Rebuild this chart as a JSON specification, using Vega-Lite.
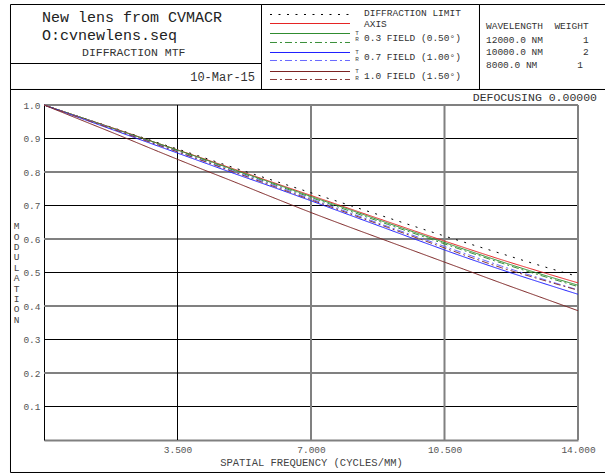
{
  "$schema": "https://vega.github.io/schema/vega-lite/v6.json",
  "width": 534,
  "height": 335,
  "autosize": {"type": "none"},
  "padding": {"left": 44, "top": 105, "right": 27, "bottom": 34},
  "background": "white",
  "config": {"font": "Liberation Mono", "view": {"stroke": null}},
  "datasets": {
    "ygrid": [{"level": 0.1}, {"level": 0.2}, {"level": 0.3}, {"level": 0.4}, {"level": 0.5}, {"level": 0.6}, {"level": 0.7}, {"level": 0.8}, {"level": 0.9}, {"level": 1.0}],
    "xgrid": [{"freq": 3.5}, {"freq": 7}, {"freq": 10.5}, {"freq": 14}],
    "mtf": [
      {"series": "DL", "freq": 0, "mtf": 1.000}, {"series": "DL", "freq": 1, "mtf": 0.962}, {"series": "DL", "freq": 2, "mtf": 0.925}, {"series": "DL", "freq": 3, "mtf": 0.887}, {"series": "DL", "freq": 4, "mtf": 0.850}, {"series": "DL", "freq": 5, "mtf": 0.812}, {"series": "DL", "freq": 6, "mtf": 0.775}, {"series": "DL", "freq": 7, "mtf": 0.738}, {"series": "DL", "freq": 8, "mtf": 0.701}, {"series": "DL", "freq": 9, "mtf": 0.664}, {"series": "DL", "freq": 10, "mtf": 0.627}, {"series": "DL", "freq": 11, "mtf": 0.591}, {"series": "DL", "freq": 12, "mtf": 0.556}, {"series": "DL", "freq": 13, "mtf": 0.521}, {"series": "DL", "freq": 14, "mtf": 0.488},
      {"series": "AXIS", "freq": 0, "mtf": 1.000}, {"series": "AXIS", "freq": 1, "mtf": 0.962}, {"series": "AXIS", "freq": 2, "mtf": 0.924}, {"series": "AXIS", "freq": 3, "mtf": 0.885}, {"series": "AXIS", "freq": 4, "mtf": 0.847}, {"series": "AXIS", "freq": 5, "mtf": 0.808}, {"series": "AXIS", "freq": 6, "mtf": 0.769}, {"series": "AXIS", "freq": 7, "mtf": 0.730}, {"series": "AXIS", "freq": 8, "mtf": 0.691}, {"series": "AXIS", "freq": 9, "mtf": 0.652}, {"series": "AXIS", "freq": 10, "mtf": 0.613}, {"series": "AXIS", "freq": 11, "mtf": 0.575}, {"series": "AXIS", "freq": 12, "mtf": 0.538}, {"series": "AXIS", "freq": 13, "mtf": 0.503}, {"series": "AXIS", "freq": 14, "mtf": 0.469},
      {"series": "0.3 T", "freq": 0, "mtf": 1.000}, {"series": "0.3 T", "freq": 1, "mtf": 0.962}, {"series": "0.3 T", "freq": 2, "mtf": 0.923}, {"series": "0.3 T", "freq": 3, "mtf": 0.885}, {"series": "0.3 T", "freq": 4, "mtf": 0.846}, {"series": "0.3 T", "freq": 5, "mtf": 0.806}, {"series": "0.3 T", "freq": 6, "mtf": 0.767}, {"series": "0.3 T", "freq": 7, "mtf": 0.727}, {"series": "0.3 T", "freq": 8, "mtf": 0.688}, {"series": "0.3 T", "freq": 9, "mtf": 0.648}, {"series": "0.3 T", "freq": 10, "mtf": 0.609}, {"series": "0.3 T", "freq": 11, "mtf": 0.570}, {"series": "0.3 T", "freq": 12, "mtf": 0.532}, {"series": "0.3 T", "freq": 13, "mtf": 0.496}, {"series": "0.3 T", "freq": 14, "mtf": 0.462},
      {"series": "0.3 R", "freq": 0, "mtf": 1.000}, {"series": "0.3 R", "freq": 1, "mtf": 0.961}, {"series": "0.3 R", "freq": 2, "mtf": 0.922}, {"series": "0.3 R", "freq": 3, "mtf": 0.883}, {"series": "0.3 R", "freq": 4, "mtf": 0.844}, {"series": "0.3 R", "freq": 5, "mtf": 0.804}, {"series": "0.3 R", "freq": 6, "mtf": 0.764}, {"series": "0.3 R", "freq": 7, "mtf": 0.724}, {"series": "0.3 R", "freq": 8, "mtf": 0.684}, {"series": "0.3 R", "freq": 9, "mtf": 0.644}, {"series": "0.3 R", "freq": 10, "mtf": 0.605}, {"series": "0.3 R", "freq": 11, "mtf": 0.566}, {"series": "0.3 R", "freq": 12, "mtf": 0.528}, {"series": "0.3 R", "freq": 13, "mtf": 0.492}, {"series": "0.3 R", "freq": 14, "mtf": 0.458},
      {"series": "0.7 T", "freq": 0, "mtf": 1.000}, {"series": "0.7 T", "freq": 1, "mtf": 0.959}, {"series": "0.7 T", "freq": 2, "mtf": 0.918}, {"series": "0.7 T", "freq": 3, "mtf": 0.877}, {"series": "0.7 T", "freq": 4, "mtf": 0.836}, {"series": "0.7 T", "freq": 5, "mtf": 0.795}, {"series": "0.7 T", "freq": 6, "mtf": 0.755}, {"series": "0.7 T", "freq": 7, "mtf": 0.714}, {"series": "0.7 T", "freq": 8, "mtf": 0.672}, {"series": "0.7 T", "freq": 9, "mtf": 0.630}, {"series": "0.7 T", "freq": 10, "mtf": 0.588}, {"series": "0.7 T", "freq": 11, "mtf": 0.547}, {"series": "0.7 T", "freq": 12, "mtf": 0.508}, {"series": "0.7 T", "freq": 13, "mtf": 0.471}, {"series": "0.7 T", "freq": 14, "mtf": 0.435},
      {"series": "0.7 R", "freq": 0, "mtf": 1.000}, {"series": "0.7 R", "freq": 1, "mtf": 0.961}, {"series": "0.7 R", "freq": 2, "mtf": 0.921}, {"series": "0.7 R", "freq": 3, "mtf": 0.881}, {"series": "0.7 R", "freq": 4, "mtf": 0.841}, {"series": "0.7 R", "freq": 5, "mtf": 0.801}, {"series": "0.7 R", "freq": 6, "mtf": 0.761}, {"series": "0.7 R", "freq": 7, "mtf": 0.720}, {"series": "0.7 R", "freq": 8, "mtf": 0.679}, {"series": "0.7 R", "freq": 9, "mtf": 0.638}, {"series": "0.7 R", "freq": 10, "mtf": 0.598}, {"series": "0.7 R", "freq": 11, "mtf": 0.558}, {"series": "0.7 R", "freq": 12, "mtf": 0.519}, {"series": "0.7 R", "freq": 13, "mtf": 0.483}, {"series": "0.7 R", "freq": 14, "mtf": 0.448},
      {"series": "1.0 T", "freq": 0, "mtf": 1.000}, {"series": "1.0 T", "freq": 1, "mtf": 0.954}, {"series": "1.0 T", "freq": 2, "mtf": 0.908}, {"series": "1.0 T", "freq": 3, "mtf": 0.861}, {"series": "1.0 T", "freq": 4, "mtf": 0.815}, {"series": "1.0 T", "freq": 5, "mtf": 0.770}, {"series": "1.0 T", "freq": 6, "mtf": 0.724}, {"series": "1.0 T", "freq": 7, "mtf": 0.679}, {"series": "1.0 T", "freq": 8, "mtf": 0.636}, {"series": "1.0 T", "freq": 9, "mtf": 0.594}, {"series": "1.0 T", "freq": 10, "mtf": 0.552}, {"series": "1.0 T", "freq": 11, "mtf": 0.510}, {"series": "1.0 T", "freq": 12, "mtf": 0.468}, {"series": "1.0 T", "freq": 13, "mtf": 0.427}, {"series": "1.0 T", "freq": 14, "mtf": 0.386},
      {"series": "1.0 R", "freq": 0, "mtf": 1.000}, {"series": "1.0 R", "freq": 1, "mtf": 0.960}, {"series": "1.0 R", "freq": 2, "mtf": 0.920}, {"series": "1.0 R", "freq": 3, "mtf": 0.880}, {"series": "1.0 R", "freq": 4, "mtf": 0.840}, {"series": "1.0 R", "freq": 5, "mtf": 0.799}, {"series": "1.0 R", "freq": 6, "mtf": 0.758}, {"series": "1.0 R", "freq": 7, "mtf": 0.717}, {"series": "1.0 R", "freq": 8, "mtf": 0.676}, {"series": "1.0 R", "freq": 9, "mtf": 0.635}, {"series": "1.0 R", "freq": 10, "mtf": 0.594}, {"series": "1.0 R", "freq": 11, "mtf": 0.553}, {"series": "1.0 R", "freq": 12, "mtf": 0.514}, {"series": "1.0 R", "freq": 13, "mtf": 0.480}, {"series": "1.0 R", "freq": 14, "mtf": 0.447}
    ]
  },
  "layer": [
    {
      "data": {"name": "ygrid"},
      "mark": {"type": "rule"},
      "encoding": {
        "y": {"field": "level", "type": "quantitative"},
        "color": {"condition": {"test": "datum.level == 0.2 || datum.level == 0.4 || datum.level == 0.6 || datum.level == 0.8 || datum.level == 1", "value": "#808080"}, "value": "#000000"},
        "strokeWidth": {"condition": {"test": "datum.level == 0.2 || datum.level == 0.4 || datum.level == 0.6 || datum.level == 0.8 || datum.level == 1", "value": 2}, "value": 1}
      }
    },
    {
      "data": {"name": "xgrid"},
      "mark": {"type": "rule"},
      "encoding": {
        "x": {"field": "freq", "type": "quantitative"},
        "color": {"condition": {"test": "datum.freq > 4", "value": "#808080"}, "value": "#000000"},
        "strokeWidth": {"condition": {"test": "datum.freq > 4", "value": 2}, "value": 1}
      }
    },
    {
      "data": {"name": "mtf"},
      "mark": {"type": "line", "strokeWidth": 1, "interpolate": "monotone"},
      "encoding": {
        "x": {
          "field": "freq", "type": "quantitative",
          "scale": {"domain": [0, 14], "nice": false, "zero": false},
          "axis": {
            "values": [3.5, 7, 10.5, 14], "tickCount": 20, "format": ".3f", "ticks": false, "grid": false,
            "domainColor": "#808080", "domainWidth": 2,
            "labelFont": "Liberation Mono", "labelFontSize": 9.5, "labelColor": "#555555", "labelPadding": 4,
            "labelFlush": false, "labelOverlap": false, "labelBound": false,
            "title": "SPATIAL FREQUENCY (CYCLES/MM)", "titleFont": "Liberation Mono", "titleFontSize": 10.5,
            "titleFontWeight": "normal", "titleColor": "#444444", "titlePadding": 4
          }
        },
        "y": {
          "field": "mtf", "type": "quantitative",
          "scale": {"domain": [0, 1], "nice": false},
          "axis": {
            "values": [0.1, 0.2, 0.3, 0.4, 0.5, 0.6, 0.7, 0.8, 0.9, 1.0], "tickCount": 20, "format": ".1f", "ticks": false, "grid": false,
            "domainColor": "#000000", "domainWidth": 1,
            "labelFont": "Liberation Mono", "labelFontSize": 9.5, "labelColor": "#555555", "labelPadding": 4,
            "labelFlush": false, "labelOverlap": false, "labelBound": false,
            "title": null
          }
        },
        "color": {
          "field": "series", "type": "nominal", "legend": null,
          "scale": {
            "domain": ["DL", "AXIS", "0.3 T", "0.3 R", "0.7 T", "0.7 R", "1.0 T", "1.0 R"],
            "range": ["#000000", "#e52222", "#2e8b2e", "#3a8f3a", "#1c1cff", "#6a6aff", "#7a1f1f", "#8a3a3a"]
          }
        },
        "strokeDash": {
          "field": "series", "type": "nominal", "legend": null,
          "scale": {
            "domain": ["DL", "AXIS", "0.3 T", "0.3 R", "0.7 T", "0.7 R", "1.0 T", "1.0 R"],
            "range": [[2, 6.5], [1, 0], [1, 0], [7, 3, 2, 3], [1, 0], [7, 3, 2, 3], [1, 0], [7, 3, 2, 3]]
          }
        }
      }
    },
    {"data": {"values": [{}]}, "mark": {"type": "text", "text": ["M", "O", "D", "U", "L", "A", "T", "I", "O", "N"], "lineHeight": 10.4, "font": "Liberation Mono", "fontSize": 9.5, "align": "center", "baseline": "alphabetic", "color": "#444444"},
     "encoding": {"x": {"datum": -0.71573}, "y": {"datum": 0.62896}}},
    {"data": {"values": [{}]}, "mark": {"type": "rect", "fill": "white", "fillOpacity": 0, "stroke": "#000000", "strokeWidth": 1},
     "encoding": {"x": {"datum": -0.87828}, "x2": {"datum": 5.70225}, "y": {"datum": 1.30000}, "y2": {"datum": 1.04627}}},
    {"data": {"values": [{}]}, "mark": {"type": "rect", "fill": "white", "fillOpacity": 0, "stroke": "#000000", "strokeWidth": 1},
     "encoding": {"x": {"datum": 5.70225}, "x2": {"datum": 11.41760}, "y": {"datum": 1.30000}, "y2": {"datum": 1.04627}}},
    {"data": {"values": [{}]}, "mark": {"type": "rect", "fill": "white", "fillOpacity": 0, "stroke": "#000000", "strokeWidth": 1},
     "encoding": {"x": {"datum": 11.41760}, "x2": {"datum": 14.75}, "y": {"datum": 1.30000}, "y2": {"datum": 1.04627}}},
    {"data": {"values": [{}]}, "mark": {"type": "rect", "fill": "white", "fillOpacity": 0, "stroke": "#000000", "strokeWidth": 1},
     "encoding": {"x": {"datum": -0.87828}, "x2": {"datum": 14.75}, "y": {"datum": 1.04627}, "y2": {"datum": -0.09701}}},
    {"data": {"values": [{}]}, "mark": {"type": "rule", "color": "#000000", "strokeWidth": 1},
     "encoding": {"x": {"datum": -0.87828}, "x2": {"datum": 5.70225}, "y": {"datum": 1.12388}}},
    {"data": {"values": [{}]}, "mark": {"type": "text", "text": "New lens from CVMACR", "font": "Liberation Mono", "fontSize": 15, "align": "left", "baseline": "alphabetic", "color": "#222222"},
     "encoding": {"x": {"datum": -0.05243}, "y": {"datum": 1.24627}}},
    {"data": {"values": [{}]}, "mark": {"type": "text", "text": "O:cvnewlens.seq", "font": "Liberation Mono", "fontSize": 15, "align": "left", "baseline": "alphabetic", "color": "#222222"},
     "encoding": {"x": {"datum": -0.05243}, "y": {"datum": 1.19552}}},
    {"data": {"values": [{}]}, "mark": {"type": "text", "text": "DIFFRACTION MTF", "font": "Liberation Mono", "fontSize": 11.5, "align": "left", "baseline": "alphabetic", "color": "#333333"},
     "encoding": {"x": {"datum": 0.99625}, "y": {"datum": 1.14627}}},
    {"data": {"values": [{}]}, "mark": {"type": "text", "text": "10-Mar-15", "font": "Liberation Mono", "fontSize": 12, "align": "right", "baseline": "alphabetic", "color": "#333333"},
     "encoding": {"x": {"datum": 5.53184}, "y": {"datum": 1.07015}}},
    {"data": {"values": [{}]}, "mark": {"type": "rule"},
     "encoding": {"x": {"datum": 5.92509}, "x2": {"datum": 8.02247}, "y": {"datum": 1.27015}, "color": {"datum": "DL"}, "strokeDash": {"datum": "DL"}}},
    {"data": {"values": [{}]}, "mark": {"type": "rule"},
     "encoding": {"x": {"datum": 5.92509}, "x2": {"datum": 8.02247}, "y": {"datum": 1.24328}, "color": {"datum": "AXIS"}, "strokeDash": {"datum": "AXIS"}}},
    {"data": {"values": [{}]}, "mark": {"type": "rule"},
     "encoding": {"x": {"datum": 5.92509}, "x2": {"datum": 8.02247}, "y": {"datum": 1.21343}, "color": {"datum": "0.3 T"}, "strokeDash": {"datum": "0.3 T"}}},
    {"data": {"values": [{}]}, "mark": {"type": "rule"},
     "encoding": {"x": {"datum": 5.92509}, "x2": {"datum": 8.02247}, "y": {"datum": 1.18657}, "color": {"datum": "0.3 R"}, "strokeDash": {"datum": "0.3 R"}}},
    {"data": {"values": [{}]}, "mark": {"type": "rule"},
     "encoding": {"x": {"datum": 5.92509}, "x2": {"datum": 8.02247}, "y": {"datum": 1.15672}, "color": {"datum": "0.7 T"}, "strokeDash": {"datum": "0.7 T"}}},
    {"data": {"values": [{}]}, "mark": {"type": "rule"},
     "encoding": {"x": {"datum": 5.92509}, "x2": {"datum": 8.02247}, "y": {"datum": 1.13284}, "color": {"datum": "0.7 R"}, "strokeDash": {"datum": "0.7 R"}}},
    {"data": {"values": [{}]}, "mark": {"type": "rule"},
     "encoding": {"x": {"datum": 5.92509}, "x2": {"datum": 8.02247}, "y": {"datum": 1.10000}, "color": {"datum": "1.0 T"}, "strokeDash": {"datum": "1.0 T"}}},
    {"data": {"values": [{}]}, "mark": {"type": "rule"},
     "encoding": {"x": {"datum": 5.92509}, "x2": {"datum": 8.02247}, "y": {"datum": 1.07612}, "color": {"datum": "1.0 R"}, "strokeDash": {"datum": "1.0 R"}}},
    {"data": {"values": [{}]}, "mark": {"type": "text", "text": ["DIFFRACTION LIMIT", "AXIS"], "lineHeight": 10.6, "font": "Liberation Mono", "fontSize": 9.5, "align": "left", "baseline": "alphabetic", "color": "#333333"},
     "encoding": {"x": {"datum": 8.38951}, "y": {"datum": 1.26567}}},
    {"data": {"values": [{}]}, "mark": {"type": "text", "text": ["0.3 FIELD (0.50°)", "0.7 FIELD (1.00°)", "1.0 FIELD (1.50°)"], "lineHeight": 19.4, "font": "Liberation Mono", "fontSize": 9.5, "align": "left", "baseline": "alphabetic", "color": "#333333"},
     "encoding": {"x": {"datum": 8.38951}, "y": {"datum": 1.19224}}},
    {"data": {"values": [{}]}, "mark": {"type": "text", "text": ["T", "R"], "lineHeight": 6.5, "font": "Liberation Mono", "fontSize": 6, "align": "center", "baseline": "alphabetic", "color": "#444444"},
     "encoding": {"x": {"datum": 8.20599}, "y": {"datum": 1.20985}}},
    {"data": {"values": [{}]}, "mark": {"type": "text", "text": ["T", "R"], "lineHeight": 6.5, "font": "Liberation Mono", "fontSize": 6, "align": "center", "baseline": "alphabetic", "color": "#444444"},
     "encoding": {"x": {"datum": 8.20599}, "y": {"datum": 1.15194}}},
    {"data": {"values": [{}]}, "mark": {"type": "text", "text": ["T", "R"], "lineHeight": 6.5, "font": "Liberation Mono", "fontSize": 6, "align": "center", "baseline": "alphabetic", "color": "#444444"},
     "encoding": {"x": {"datum": 8.20599}, "y": {"datum": 1.09403}}},
    {"data": {"values": [{}]}, "mark": {"type": "text", "text": "WAVELENGTH\u00a0\u00a0WEIGHT", "font": "Liberation Mono", "fontSize": 9.5, "align": "left", "baseline": "alphabetic", "color": "#333333"},
     "encoding": {"x": {"datum": 11.58801}, "y": {"datum": 1.22776}}},
    {"data": {"values": [{}]}, "mark": {"type": "text", "text": ["12000.0\u00a0NM\u00a0\u00a0\u00a0\u00a0\u00a0\u00a0\u00a01", "10000.0\u00a0NM\u00a0\u00a0\u00a0\u00a0\u00a0\u00a0\u00a02", "8000.0\u00a0NM\u00a0\u00a0\u00a0\u00a0\u00a0\u00a0\u00a01"], "lineHeight": 12.5, "font": "Liberation Mono", "fontSize": 9.5, "align": "left", "baseline": "alphabetic", "color": "#333333"},
     "encoding": {"x": {"datum": 11.58801}, "y": {"datum": 1.18597}}},
    {"data": {"values": [{}]}, "mark": {"type": "text", "text": "DEFOCUSING 0.00000", "font": "Liberation Mono", "fontSize": 11.5, "align": "right", "baseline": "alphabetic", "color": "#333333"},
     "encoding": {"x": {"datum": 14.49813}, "y": {"datum": 1.01045}}}
  ]
}
